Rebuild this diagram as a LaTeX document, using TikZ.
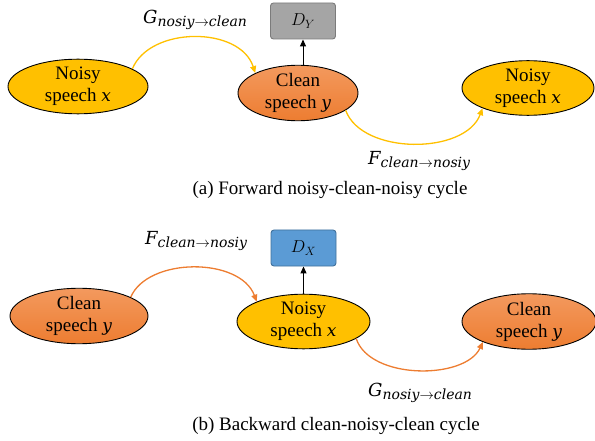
\documentclass[tikz,border=0pt]{standalone}
\usepackage{fontspec}
\setmainfont{Liberation Serif}
\newfontfamily\labfont{DejaVu Serif}
\usetikzlibrary{shapes.geometric,arrows.meta}
\definecolor{cyellow}{HTML}{FFC000}
\definecolor{corange}{HTML}{ED7D31}
\definecolor{corangetop}{HTML}{F3995E}
\definecolor{boxgray}{HTML}{A5A5A5}
\definecolor{boxgrayline}{HTML}{7B7B7B}
\definecolor{boxblue}{HTML}{5B9BD5}
\definecolor{boxblueline}{HTML}{41719C}
\newcommand{\genlabel}[3]{{\labfont\itshape\fontsize{18}{20}\selectfont #1\raisebox{-3pt}{\fontsize{14}{14}\selectfont #2$\rightarrow$#3}}}
\newcommand{\var}[1]{{\labfont\itshape\fontsize{17}{20}\selectfont #1}}
\tikzset{
  ell/.style={ellipse, draw=black, line width=0.9pt, inner sep=0pt, align=center,
    font=\fontsize{19}{22}\selectfont},
  noisyell/.style={ell, fill=cyellow},
  cleanell/.style={ell, top color=corangetop, bottom color=corange},
  disc/.style={draw, line width=0.9pt, rounded corners=3pt, minimum width=65pt,
    minimum height=36pt, inner sep=0pt, font=\fontsize{18}{20}\selectfont},
  lab/.style={inner sep=0pt, anchor=base west},
  captext/.style={inner sep=0pt, anchor=base, font=\fontsize{19}{22}\selectfont},
  ycurve/.style={draw=cyellow, line width=1.3pt, -{Triangle[length=7pt,width=6pt]}},
  ocurve/.style={draw=corange, line width=1.3pt, -{Triangle[length=7pt,width=6pt]}},
  uparrow/.style={draw=black, line width=1pt, -{Triangle[length=7pt,width=6pt]}}
}
\begin{document}
\begin{tikzpicture}[x=1pt,y=-1pt]
\useasboundingbox (0,0) rectangle (595,441);
% ---- top row
\node[noisyell, minimum width=140pt, minimum height=47pt] (e1) at (78,86.5) {Noisy\\speech \var{x}};
\node[cleanell, minimum width=120pt, minimum height=48pt] (e2) at (298,93) {Clean\\speech \var{y}};
\node[noisyell, minimum width=132pt, minimum height=48pt] (e3) at (528,88) {Noisy\\speech \var{x}};
\node[disc, draw=boxgrayline, fill=boxgray] (dy) at (303,21) {$D_Y$};
\draw[uparrow] (dy.south |- e2.north) -- (dy.south);
\draw[ycurve] (e1.18) .. controls (150,26) and (240,26) .. (e2.155);
\draw[ycurve] (e2.-20) .. controls (362,155) and (465,155) .. (e3.204);
\node[lab] (lg1) at (143,24) {\genlabel{G}{nosiy}{clean}};
\node[lab] (lf1) at (368,165) {\genlabel{F}{clean}{nosiy}};
\node[captext] (capa) at (330,195) {(a) Forward noisy-clean-noisy cycle};
% ---- bottom row
\node[cleanell, minimum width=138pt, minimum height=48pt] (e4) at (79,316) {Clean\\speech \var{y}};
\node[noisyell, minimum width=133pt, minimum height=47pt] (e5) at (303.5,321.5) {Noisy\\speech \var{x}};
\node[cleanell, minimum width=134pt, minimum height=47pt] (e6) at (529,321.5) {Clean\\speech \var{y}};
\node[disc, draw=boxblueline, fill=boxblue] (dx) at (303.5,248) {$D_X$};
\draw[uparrow] (dx.south |- e5.north) -- (dx.south);
\draw[ocurve] (e4.20) .. controls (148,257) and (240,257) .. (e5.157);
\draw[ocurve] (e5.-18) .. controls (370,380) and (465,380) .. (e6.204);
\node[lab] (lf2) at (145,244) {\genlabel{F}{clean}{nosiy}};
\node[lab] (lg2) at (368,396) {\genlabel{G}{nosiy}{clean}};
\node[captext] (capb) at (336,430) {(b) Backward clean-noisy-clean cycle};
\end{tikzpicture}
\end{document}
